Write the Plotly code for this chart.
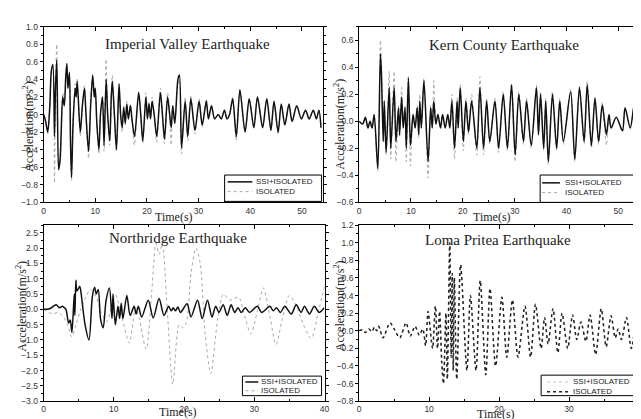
import plotly.graph_objects as go

# ---------------- Imperial Valley ----------------
iv_time = [0, 0.4, 0.8, 1.2, 1.5, 1.8, 2.1, 2.3, 2.55, 2.9,
           3.2, 3.4, 3.7, 4.0, 4.3, 4.5, 4.7, 5.0, 5.2, 5.4,
           5.7, 6.1, 6.3, 6.5, 7.1, 7.5, 7.9, 8.2, 8.7, 9.1,
           9.5, 9.8, 10.0, 10.3, 10.7, 11.0, 11.4, 11.7, 12.1, 12.4,
           12.8, 13.1, 13.3, 13.7, 14.1, 14.6, 14.9, 15.2, 15.5, 15.8,
           16.1, 16.4, 16.8, 17.1, 17.6, 18.4, 18.8, 19.2, 19.8, 20.1,
           20.4, 20.7, 21.0, 21.4, 21.9, 22.6, 23.0, 23.4, 24.0, 24.4,
           24.7, 25.0, 25.4, 26.0, 26.3, 26.7, 27.4, 27.9, 28.5, 29.3,
           30.1, 30.7, 31.5, 31.9, 32.5, 33.1, 33.8, 34.4, 35.0, 35.5,
           36.0, 36.6, 37.3, 38.0, 39.0, 39.8, 40.7, 41.4, 42.4, 43.2,
           44.0, 44.6, 45.4, 46.0, 46.7, 47.5, 48.1, 49.0, 49.9, 50.7,
           51.4, 52.2, 52.8, 53.3, 53.7]
iv_ssi = [0, -0.08, -0.2, 0.1, 0.5, 0.57, -0.25, 0.3, 0.62, -0.63,
          -0.5, -0.2, 0.2, 0.1, 0.45, 0.58, 0.3, 0.48, -0.3, -0.72,
          -0.1, 0.3, 0.2, 0.38, -0.2, 0.1, 0.3, 0.0, -0.42, 0.1,
          0.45, 0.2, 0.3, -0.1, -0.4, 0.0, 0.2, -0.35, 0.4, 0.0,
          -0.3, 0.2, 0.38, 0.0, -0.4, 0.35, 0.0, -0.15, 0.08, -0.1,
          0.12, -0.05, 0.1, -0.05, -0.25, 0.25, 0.0, -0.3, 0.2, -0.05,
          0.12, -0.05, 0.15, 0.0, -0.25, 0.25, 0.0, -0.28, 0.2, 0.0,
          -0.15, 0.1, -0.1, 0.4, 0.45, -0.38, 0.15, -0.25, 0.18, -0.18,
          0.15, -0.12, 0.15, -0.05, 0.1, -0.05, 0.0, -0.05, 0.05, -0.05,
          0.0, 0.18, -0.25, 0.28, -0.2, 0.18, -0.15, 0.2, -0.15, 0.18,
          -0.18, 0.15, -0.2, 0.12, -0.12, 0.12, -0.08, 0.1, -0.05, 0.05,
          -0.05, 0.05, -0.05, 0.05, -0.15]
iv_iso = [0, -0.1, -0.22, 0.1, 0.45, 0.5, -0.78, 0.35, 0.8, -0.6,
          -0.55, -0.25, 0.25, 0.1, 0.4, 0.55, 0.3, 0.45, -0.35, -0.75,
          -0.1, 0.35, 0.2, 0.4, -0.25, 0.1, 0.33, 0.0, -0.5, 0.1,
          0.42, 0.2, 0.3, -0.1, -0.45, 0.0, 0.2, -0.42, 0.63, 0.0,
          -0.35, 0.2, 0.45, 0.0, -0.42, 0.3, 0.0, -0.2, 0.1, -0.12,
          0.15, -0.05, 0.12, -0.05, -0.35, 0.25, 0.0, -0.33, 0.25, -0.05,
          0.15, -0.05, 0.2, 0.0, -0.32, 0.3, 0.0, -0.33, 0.25, 0.0,
          -0.35, 0.1, -0.1, 0.35, 0.4, -0.45, 0.2, -0.3, 0.22, -0.22,
          0.18, -0.15, 0.18, -0.05, 0.1, -0.05, 0.0, -0.05, 0.05, -0.05,
          0.0, 0.2, -0.3, 0.3, -0.2, 0.18, -0.15, 0.2, -0.15, 0.18,
          -0.18, 0.15, -0.23, 0.12, -0.12, 0.12, -0.08, 0.1, -0.05, 0.05,
          -0.05, 0.05, -0.05, 0.05, -0.15]

# ---------------- Kern County ----------------
kc_time = [0, 0.7, 1.2, 1.7, 2.1, 2.5, 2.9, 3.6, 4.1, 4.3,
           4.65, 4.85, 5.2, 5.8, 6.1, 6.75, 7.1, 7.6, 7.8, 8.2,
           8.5, 8.85, 9.1, 9.5, 9.9, 10.4, 10.8, 11.2, 11.5, 11.7,
           12.0, 12.5, 13.3, 13.8, 14.1, 14.4, 14.8, 15.2, 15.7, 16.1,
           16.6, 17.1, 17.5, 17.9, 18.4, 18.9, 19.1, 19.5, 20.1, 20.6,
           21.1, 21.7, 22.7, 23.3, 24.0, 24.6, 25.2, 26.2, 26.9, 27.8,
           28.6, 29.4, 30.1, 30.8, 31.7, 32.3, 33.2, 34.2, 34.6, 35.0,
           35.6, 36.0, 36.5, 37.3, 38.1, 38.7, 39.4, 40.8, 41.6, 42.5,
           43.4, 44.0, 44.8, 45.5, 46.2, 46.9, 47.7, 48.2, 48.6, 49.6,
           50.8, 51.3, 52.3, 53.2, 54.0]
kc_ssi = [0, -0.02, 0.03, -0.05, 0.0, -0.05, 0.05, -0.35, 0.5, 0.35,
          -0.15, 0.15, -0.23, 0.25, -0.2, 0.25, -0.15, 0.1, -0.1, 0.18,
          -0.05, 0.1, -0.2, 0.32, -0.18, 0.05, -0.05, 0.1, -0.1, 0.15,
          -0.05, 0.3, -0.3, 0.1, -0.05, 0.15, -0.02, 0.05, -0.05, 0.05,
          -0.05, 0.05, -0.05, 0.15, -0.2, 0.15, -0.05, 0.25, -0.15, 0.15,
          -0.08, 0.15, -0.2, 0.25, -0.2, 0.15, -0.15, 0.15, -0.2, 0.2,
          -0.2, 0.27, -0.25, 0.2, -0.15, 0.15, -0.18, 0.25, -0.1, 0.2,
          -0.2, 0.15, -0.3, 0.2, -0.2, 0.15, -0.15, 0.22, -0.28, 0.25,
          -0.15, 0.27, -0.18, 0.17, -0.15, 0.12, -0.1, 0.05, -0.05, 0.03,
          -0.07, 0.1, -0.05, 0.15, -0.05]
kc_iso = [0, -0.02, 0.03, -0.05, 0.0, -0.05, 0.05, -0.37, 0.6, 0.45,
          -0.15, 0.15, -0.25, 0.37, -0.28, 0.37, -0.3, 0.12, -0.12, 0.25,
          -0.05, 0.12, -0.3, 0.33, -0.33, 0.05, -0.05, 0.12, -0.12, 0.2,
          -0.05, 0.32, -0.42, 0.12, -0.05, 0.3, -0.02, 0.05, -0.05, 0.05,
          -0.05, 0.05, -0.05, 0.2, -0.28, 0.17, -0.05, 0.27, -0.22, 0.17,
          -0.1, 0.2, -0.25, 0.33, -0.25, 0.17, -0.17, 0.17, -0.23, 0.22,
          -0.22, 0.28, -0.3, 0.22, -0.17, 0.17, -0.2, 0.27, -0.1, 0.22,
          -0.22, 0.17, -0.32, 0.22, -0.22, 0.17, -0.17, 0.24, -0.3, 0.26,
          -0.17, 0.3, -0.2, 0.18, -0.17, 0.14, -0.18, 0.05, -0.05, 0.03,
          -0.08, 0.1, -0.05, 0.15, -0.05]

# ---------------- Northridge ----------------
nr_ssi_time = [0, 0.84, 1.78, 2.25, 2.72, 2.95, 3.18, 3.56, 3.79, 4.03,
               4.36, 4.45, 4.59, 4.73, 5.15, 5.29, 5.9, 6.46, 6.93, 7.26,
               7.49, 7.78, 8.1, 8.48, 8.9, 9.37, 9.74, 9.88, 10.21, 10.59,
               10.82, 11.05, 11.29, 11.85, 12.32, 12.88, 13.16, 13.49, 13.96, 14.9,
               15.6, 16.44, 17.14, 17.8, 18.17, 18.45, 18.78, 19.11, 19.48, 20.42,
               20.98, 21.92, 22.58, 23.33, 23.98, 24.5, 24.97, 25.57, 26.14, 26.7,
               27.21, 27.68, 28.15, 28.71, 29.32, 30.44, 31.05, 32.22, 32.69, 33.16,
               33.72, 34.33, 35.27, 35.97, 36.67, 37.14, 37.85, 38.55, 39.25, 39.95]
nr_ssi = [0, 0.02, 0.15, 0.05, 0.1, 0.05, 0.0, -0.45, -0.35, -0.75,
          0.5, -0.2, 0.95, 0.6, 0.75, 0.6, -0.5, -1.0, 0.4, 0.72,
          0.5, 0.65, -0.3, -0.6, 0.3, 0.7, -0.3, 0.5, -0.5, 0.1,
          -0.3, 0.2, -0.3, 0.45, -0.2, 0.1, -0.15, 0.1, -0.25, 0.3,
          -0.28, 0.35, -0.2, 0.1, -0.05, 0.05, -0.05, 0.08, -0.1, 0.18,
          -0.25, 0.3, -0.3, 0.3, -0.25, 0.1, -0.1, 0.15, -0.2, 0.15,
          -0.1, 0.05, -0.1, 0.05, -0.1, 0.1, -0.1, 0.1, -0.05, 0.05,
          -0.1, 0.1, -0.15, 0.15, -0.1, 0.1, -0.15, 0.1, -0.1, 0.05]
nr_iso_time = [0, 1.3, 2.0, 2.7, 3.4, 4.0, 4.6, 5.3, 6.0, 6.7,
               7.5, 8.2, 9.0, 10.2, 11.2, 12.2, 13.1, 13.6, 14.6, 15.4,
               16.0, 16.45, 16.9, 17.6, 18.4, 19.3, 19.8, 20.3, 21.0, 21.7,
               22.3, 23.0, 23.8, 24.8, 25.6, 26.5, 27.1, 27.8, 28.5, 29.5,
               30.5, 31.3, 32.2, 33.1, 34.0, 35.0, 36.0, 37.0, 38.1, 39.2,
               40.0]
nr_iso = [0, -0.15, -0.1, -0.2, -0.5, -0.9, -0.5, 0.0, 0.4, 0.65,
          0.4, -0.1, -0.4, 0.48, -0.3, -1.1, 0.05, -0.3, -1.3, 0.6,
          2.15, 1.8, 2.15, 0.0, -2.45, -0.5, -0.6, -0.45, 1.2, 2.0,
          1.5, -0.8, -2.1, -0.3, 0.5, 0.3, 0.35, 0.4, -0.1, -0.8,
          0.0, 0.7, -0.2, -1.15, -0.3, 0.45, 0.1, -0.5, -0.95, 0.0,
          0.75]

# ---------------- Loma Prieta ----------------
lp_time = [0, 0.5, 0.9, 1.4, 1.8, 2.2, 2.5, 2.8, 3.4, 4.4,
           5.0, 5.8, 6.7, 7.3, 8.0, 8.6, 9.1, 9.5, 9.85, 10.3,
           10.5, 10.9, 11.2, 11.5, 11.8, 12.05, 12.4, 12.6, 12.95, 13.15,
           13.3, 13.45, 13.6, 13.95, 14.5, 15.4, 15.9, 16.7, 17.3, 18.1,
           18.7, 19.5, 20.4, 21.1, 21.9, 22.7, 23.7, 24.5, 25.2, 26.0,
           26.5, 27.0, 27.7, 28.4, 29.0, 29.8, 30.5, 31.1, 31.7, 32.4,
           33.0, 33.8, 34.6, 35.3, 36.0, 36.6, 37.0, 37.5, 38.2, 38.9,
           39.6, 40.0]
lp_iso = [0, 0.01, -0.02, 0.02, -0.01, 0.04, 0.0, 0.05, -0.08, 0.09,
          0.02, -0.08, 0.09, -0.06, 0.05, -0.05, 0.02, -0.17, 0.22, -0.1,
          -0.2, 0.28, -0.2, 0.22, -0.35, -0.6, 0.2, -0.55, 1.0, -0.3,
          0.65, -0.45, 0.6, -0.55, 0.75, -0.45, 0.4, -0.45, 0.57, -0.5,
          0.48, -0.4, 0.38, -0.3, 0.35, -0.3, 0.28, -0.3, 0.3, -0.2,
          0.15, -0.15, 0.25, -0.25, 0.2, -0.2, 0.18, -0.1, 0.1, -0.12,
          0.18, -0.27, 0.25, -0.18, 0.17, -0.08, 0.02, -0.1, 0.15, -0.2,
          0.1, -0.1]
lp_ssi = list(lp_iso)

titles = ["Imperial Valley Earthquake", "Kern County Earthquake",
          "Northridge Earthquake", "Loma Pritea Earthquake"]
series_names = ["SSI+ISOLATED", "ISOLATED"]

SERIF = "Liberation Serif, Times New Roman, serif"
SANS = "Liberation Sans, Arial, sans-serif"
W, H = 641, 419


def px(x):
    return x / W


def py(y):
    return 1 - y / H


panels = [
    dict(xd=[px(34), px(316)], yd=[py(194), py(14)], xr=[0, 54], yr=[-1, 1], dy=0.2),
    dict(xd=[px(353), px(636)], yd=[py(194), py(14)], xr=[0, 54], yr=[-0.6, 0.7], dy=0.2),
    dict(xd=[px(34), px(318)], yd=[py(397.7), py(217.3)], xr=[0, 40], yr=[-3, 2.75], dy=0.5),
    dict(xd=[px(353), px(636)], yd=[py(397.7), py(217.3)], xr=[0, 40], yr=[-0.8, 1.2], dy=0.2),
]

BLACK_SOLID = dict(color="#111111", width=1.5)
GRAY_DOT = dict(color="#a8a8a8", width=1, dash="dot")
LIGHT_DOT = dict(color="#c4c4c4", width=1, dash="dot")
DARK_DOT = dict(color="#222222", width=1.5, dash="dot")

# (ssi style, isolated style, isolated drawn on top?)
styles = [
    (BLACK_SOLID, GRAY_DOT, False),
    (BLACK_SOLID, GRAY_DOT, False),
    (BLACK_SOLID, GRAY_DOT, False),
    (LIGHT_DOT, DARK_DOT, True),
]

fig = go.Figure()

data = [
    (iv_time, iv_ssi, iv_time, iv_iso),
    (kc_time, kc_ssi, kc_time, kc_iso),
    (nr_ssi_time, nr_ssi, nr_iso_time, nr_iso),
    (lp_time, lp_ssi, lp_time, lp_iso),
]

for i, (ts, vs, ti, vi) in enumerate(data):
    n = "" if i == 0 else str(i + 1)
    s_style, i_style, iso_top = styles[i]
    ssi_tr = go.Scatter(x=ts, y=vs, mode="lines", name=series_names[0],
                        line=dict(**s_style, shape="spline", smoothing=0.8),
                        xaxis="x" + n, yaxis="y" + n, showlegend=False)
    iso_tr = go.Scatter(x=ti, y=vi, mode="lines", name=series_names[1],
                        line=dict(**i_style, shape="spline", smoothing=0.8),
                        xaxis="x" + n, yaxis="y" + n, showlegend=False)
    if iso_top:
        fig.add_trace(ssi_tr)
        fig.add_trace(iso_tr)
    else:
        fig.add_trace(iso_tr)
        fig.add_trace(ssi_tr)

layout = dict(width=W, height=H, margin=dict(l=0, r=0, t=0, b=0),
              paper_bgcolor="white", plot_bgcolor="white", showlegend=False)

tickfont = dict(family=SANS, size=8.5, color="#333333")
for i, p in enumerate(panels):
    n = "" if i == 0 else str(i + 1)
    layout["xaxis" + n] = dict(domain=p["xd"], range=p["xr"], anchor="y" + n, tick0=0, dtick=10,
                               ticks="inside", ticklen=4, tickcolor="black", mirror="allticks",
                               showline=True, linecolor="black", linewidth=1, showgrid=False,
                               zeroline=False, tickfont=tickfont,
                               minor=dict(dtick=5, ticks="inside", ticklen=2, tickcolor="black"))
    layout["yaxis" + n] = dict(domain=p["yd"], range=p["yr"], anchor="x" + n, tick0=p["yr"][0],
                               dtick=p["dy"], tickformat=".1f", ticks="outside", ticklen=3,
                               tickcolor="black", mirror="allticks", showline=True,
                               linecolor="black", linewidth=1, showgrid=False, zeroline=False,
                               tickfont=tickfont,
                               minor=dict(dtick=p["dy"] / 2, ticks="outside", ticklen=2,
                                          tickcolor="black"))

annotations = []
shapes = []

title_pos = [(179, 32), (499, 33), (170, 231), (493, 233)]
for t, (x, y) in zip(titles, title_pos):
    annotations.append(dict(text=t, x=px(x), y=py(y), xref="paper", yref="paper",
                            xanchor="center", yanchor="middle", showarrow=False,
                            font=dict(family=SERIF, size=15, color="#222222")))
ytitle_pos = [(18, 116), (333, 114), (12, 300), (333, 300)]
for x, y in ytitle_pos:
    annotations.append(dict(text="Acceleration(m/s<sup>2</sup>)", x=px(x), y=py(y),
                            xref="paper", yref="paper", xanchor="center", yanchor="middle",
                            showarrow=False, textangle=-90,
                            font=dict(family=SERIF, size=12, color="#222222")))
xtitle_pos = [(166, 209), (487, 209), (170, 409), (491, 411)]
for x, y in xtitle_pos:
    annotations.append(dict(text="Time(s)", x=px(x), y=py(y), xref="paper", yref="paper",
                            xanchor="center", yanchor="middle", showarrow=False,
                            font=dict(family=SERIF, size=12, color="#222222")))

# hand-placed legend boxes: (box x0, x1, y0, y1, line x0, x1, text x, row1 y, row2 y)
legend_boxes = [
    (217, 315, 166, 193, 220, 245, 247, 173, 183),
    (536, 636, 166, 194, 538, 556, 559, 174, 184),
    (235, 315, 372, 392, 238, 251, 252, 378, 387),
    (537, 636, 371, 392, 543, 565, 567, 378, 388),
]
for i, (bx0, bx1, by0, by1, lx0, lx1, tx, r1, r2) in enumerate(legend_boxes):
    s_style, i_style, _ = styles[i]
    shapes.append(dict(type="rect", xref="paper", yref="paper", x0=px(bx0), x1=px(bx1),
                       y0=py(by1), y1=py(by0), line=dict(color="black", width=1),
                       fillcolor="white", layer="above"))
    for row_y, st, name in [(r1, s_style, series_names[0]), (r2, i_style, series_names[1])]:
        shapes.append(dict(type="line", xref="paper", yref="paper", x0=px(lx0), x1=px(lx1),
                           y0=py(row_y), y1=py(row_y), layer="above",
                           line=dict(color=st["color"], width=st["width"],
                                     dash=st.get("dash", "solid"))))
        annotations.append(dict(text=name, x=px(tx), y=py(row_y), xref="paper", yref="paper",
                                xanchor="left", yanchor="middle", showarrow=False,
                                font=dict(family=SANS, size=8, color="#222222")))

layout["annotations"] = annotations
layout["shapes"] = shapes

fig.update_layout(**layout)
fig.write_html("out.html")
